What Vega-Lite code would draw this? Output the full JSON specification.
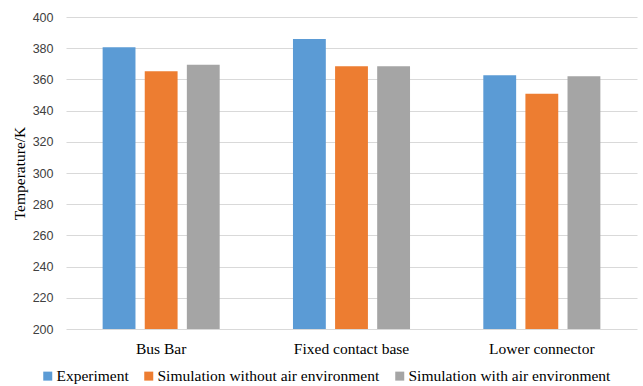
{
  "$schema": "https://vega.github.io/schema/vega-lite/v6.json",
  "width": 571,
  "height": 312,
  "autosize": {"type": "none"},
  "padding": {"left": 66, "top": 17, "right": 6, "bottom": 57},
  "background": "white",
  "data": {
    "values": [
      {"part": "Bus Bar", "series": "Experiment", "temp": 380.6},
      {"part": "Bus Bar", "series": "Simulation without air environment", "temp": 365.2},
      {"part": "Bus Bar", "series": "Simulation with air environment", "temp": 369.4},
      {"part": "Fixed contact base", "series": "Experiment", "temp": 385.9},
      {"part": "Fixed contact base", "series": "Simulation without air environment", "temp": 368.5},
      {"part": "Fixed contact base", "series": "Simulation with air environment", "temp": 368.5},
      {"part": "Lower connector", "series": "Experiment", "temp": 362.6},
      {"part": "Lower connector", "series": "Simulation without air environment", "temp": 350.8},
      {"part": "Lower connector", "series": "Simulation with air environment", "temp": 362.0}
    ]
  },
  "mark": {"type": "bar", "clip": true},
  "encoding": {
    "x": {
      "field": "part",
      "type": "nominal",
      "sort": null,
      "title": null,
      "scale": {"paddingInner": 0.385, "paddingOuter": 0.1925},
      "axis": {
        "labelAngle": 0,
        "labelFont": "Liberation Serif",
        "labelFontSize": 15.5,
        "labelColor": "#000000",
        "labelPadding": 12,
        "labelLimit": 0,
        "ticks": false,
        "domain": false,
        "grid": false
      }
    },
    "xOffset": {
      "field": "series",
      "type": "nominal",
      "sort": null,
      "scale": {"paddingInner": 0.22, "paddingOuter": 0}
    },
    "y": {
      "field": "temp",
      "type": "quantitative",
      "title": "Temperature/K",
      "scale": {"domain": [200, 400], "zero": false, "nice": false},
      "axis": {
        "values": [200, 220, 240, 260, 280, 300, 320, 340, 360, 380, 400],
        "labelFont": "Liberation Sans",
        "labelFontSize": 12.5,
        "labelColor": "#404040",
        "labelPadding": 13,
        "ticks": false,
        "domain": false,
        "grid": true,
        "gridColor": "#d9d9d9",
        "gridWidth": 1,
        "titleFont": "Liberation Serif",
        "titleFontSize": 15.5,
        "titleFontWeight": "normal",
        "titleColor": "#000000",
        "titlePadding": 5
      }
    },
    "color": {
      "field": "series",
      "type": "nominal",
      "sort": null,
      "scale": {
        "domain": ["Experiment", "Simulation without air environment", "Simulation with air environment"],
        "range": ["#5B9BD5", "#ED7D31", "#A5A5A5"]
      },
      "legend": {
        "title": null,
        "orient": "none",
        "direction": "horizontal",
        "legendX": -26,
        "legendY": 351,
        "symbolType": "square",
        "symbolSize": 81,
        "symbolStrokeWidth": 0,
        "labelFont": "Liberation Serif",
        "labelFontSize": 15.5,
        "labelColor": "#000000",
        "labelLimit": 0,
        "labelOffset": 1,
        "columnPadding": 12
      }
    }
  },
  "config": {
    "view": {"stroke": null},
    "legend": {"labelFont": "Liberation Serif", "labelFontSize": 15.5}
  }
}
